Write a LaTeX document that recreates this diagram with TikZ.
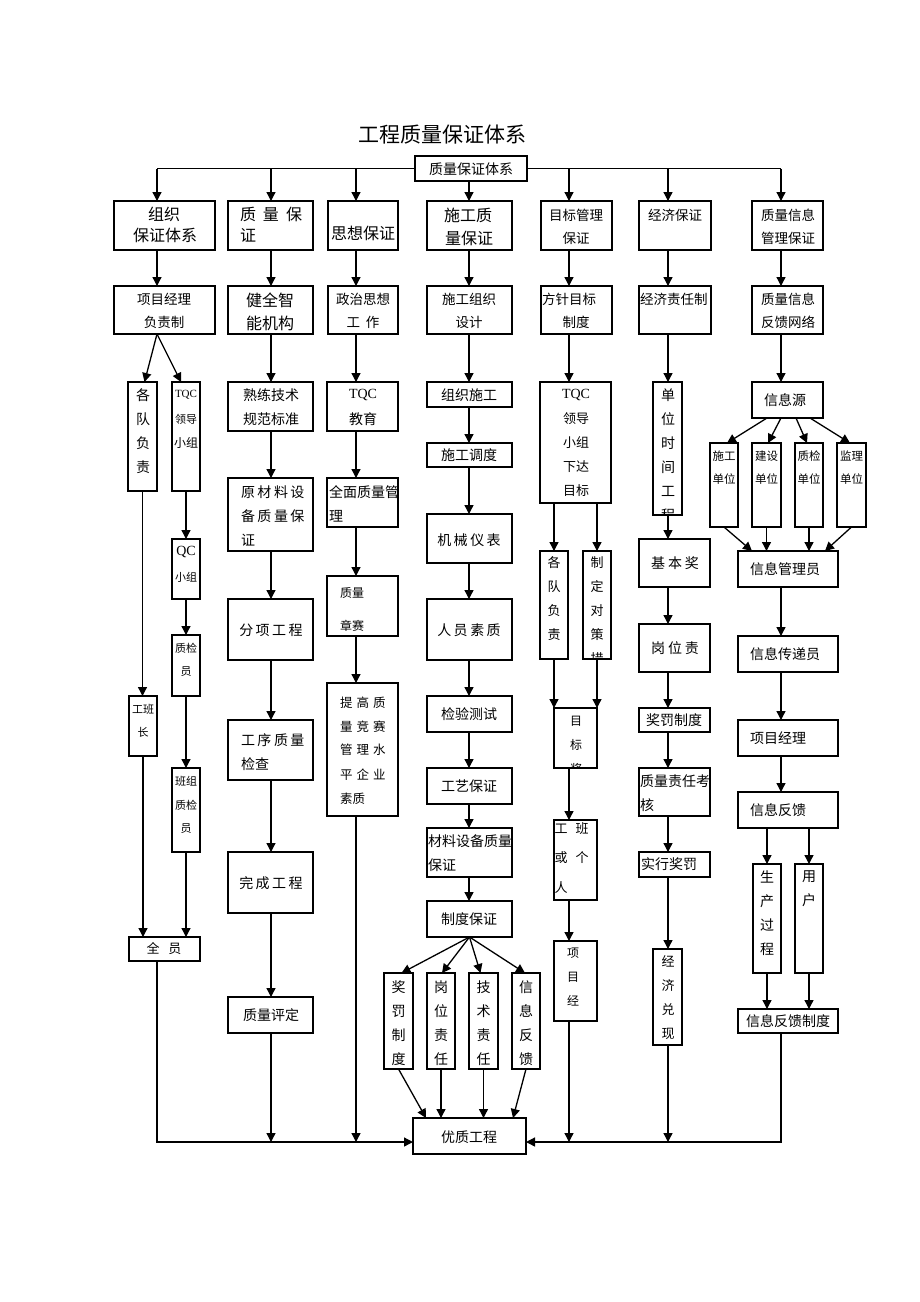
\documentclass[tikz,border=0pt]{standalone}
\usepackage{fontspec}
\setmainfont{Liberation Serif}
\newfontfamily\cjk{Noto Sans CJK SC}
\usetikzlibrary{arrows.meta,calc}
\newcounter{lbc}
\newcommand\gap[1]{\hspace{#1pt}}
\newcommand\bx[5]{\node[bx,minimum width={#4-#2},minimum height={#5-#3}] (#1) at ({(#2+#4)/2},{(#3+#5)/2}) {};}
\newcommand\tx[5][center]{\stepcounter{lbc}\node[lb,anchor=#1,font=\cjk\fontsize{#4}{#4}\selectfont] (l\arabic{lbc}) at (#2,#3) {#5};}
\newcommand\te[4]{\stepcounter{lbc}\node[lb,font=\rmfamily\fontsize{#3}{#3}\selectfont] (l\arabic{lbc}) at (#1,#2) {#4};}
\newcommand\vt[4]{\stepcounter{lbc}\node[lb,align=center,font=\cjk\fontsize{#3}{24}\selectfont] (l\arabic{lbc}) at (#1,#2) {#4};}
\begin{document}
\begin{tikzpicture}[x=1pt,y=-1pt,
  bx/.style={draw,line width=1.3pt,inner sep=0pt,outer sep=0pt},
  ln/.style={line width=1.3pt},
  arr/.style={line width=1.3pt,-{Triangle[length=9pt,width=9pt]}},
  lb/.style={inner sep=0pt,outer sep=0pt}]
\useasboundingbox[fill=white] (0,0) rectangle (920,1302);

\node[lb,font=\cjk\fontsize{21}{21}\selectfont] (title) at (442,135) {工程质量保证体系};

% column x references
\coordinate (x1) at (157,168.5);
\coordinate (x2) at (271,168.5);
\coordinate (x3) at (356,168.5);
\coordinate (x4) at (469,168.5);
\coordinate (x5) at (569,168.5);
\coordinate (x6) at (668,168.5);
\coordinate (x7) at (781,168.5);
\coordinate (b) at (0,1142);

% ---------- boxes ----------
\bx{T}{415}{156}{527}{181}
\bx{c1r1}{114}{201}{215}{250}
\bx{c2r1}{228}{201}{313}{250}
\bx{c3r1}{328}{201}{398}{250}
\bx{c4r1}{427}{201}{512}{250}
\bx{c5r1}{541}{201}{612}{250}
\bx{c6r1}{639}{201}{711}{250}
\bx{c7r1}{752}{201}{823}{250}
\bx{c1r2}{114}{286}{215}{334}
\bx{c2r2}{228}{286}{313}{334}
\bx{c3r2}{328}{286}{398}{334}
\bx{c4r2}{427}{286}{512}{334}
\bx{c5r2}{541}{286}{612}{334}
\bx{c6r2}{639}{286}{711}{334}
\bx{c7r2}{752}{286}{823}{334}
% col1
\bx{c1a}{128}{382}{157}{491}
\bx{c1b}{172}{382}{200}{491}
\bx{c1c}{172}{539}{200}{599}
\bx{c1d}{172}{635}{200}{696}
\bx{c1e}{129}{696}{157}{756}
\bx{c1f}{172}{768}{200}{852}
\bx{c1g}{129}{937}{200}{961}
% col2
\bx{c2a}{228}{382}{313}{431}
\bx{c2b}{228}{478}{313}{551}
\bx{c2c}{228}{599}{313}{660}
\bx{c2d}{228}{720}{313}{780}
\bx{c2e}{228}{852}{313}{913}
\bx{c2f}{228}{997}{313}{1033}
% col3
\bx{c3a}{327}{382}{398}{431}
\bx{c3b}{327}{478}{398}{527}
\bx{c3c}{327}{576}{398}{636}
\bx{c3d}{327}{683}{398}{816}
% col4
\bx{c4a}{427}{382}{512}{407}
\bx{c4b}{427}{443}{512}{467}
\bx{c4c}{427}{514}{512}{563}
\bx{c4d}{427}{599}{512}{660}
\bx{c4e}{427}{696}{512}{732}
\bx{c4f}{427}{768}{512}{804}
\bx{c4g}{427}{828}{512}{877}
\bx{c4h}{427}{901}{512}{937}
\bx{c4i}{384}{973}{413}{1069}
\bx{c4j}{427}{973}{455}{1069}
\bx{c4k}{469}{973}{498}{1069}
\bx{c4l}{512}{973}{540}{1069}
\bx{Q}{413}{1118}{526}{1154}
% col5
\bx{c5a}{540}{382}{611}{503}
\bx{c5b}{540}{551}{568}{659}
\bx{c5c}{583}{551}{611}{659}
\bx{c5d}{554}{708}{597}{768}
\bx{c5e}{554}{820}{597}{900}
\bx{c5f}{554}{941}{597}{1021}
% col6
\bx{c6a}{653}{382}{682}{515}
\bx{c6b}{639}{539}{710}{587}
\bx{c6c}{639}{624}{710}{672}
\bx{c6d}{639}{708}{710}{732}
\bx{c6e}{639}{768}{710}{816}
\bx{c6f}{639}{852}{710}{877}
\bx{c6g}{653}{949}{682}{1045}
% col7
\bx{c7a}{752}{382}{823}{418}
\bx{c7b}{710}{443}{738}{527}
\bx{c7c}{752}{443}{781}{527}
\bx{c7d}{795}{443}{823}{527}
\bx{c7e}{837}{443}{866}{527}
\bx{c7f}{738}{551}{838}{587}
\bx{c7g}{738}{636}{838}{672}
\bx{c7h}{738}{720}{838}{756}
\bx{c7i}{738}{792}{838}{828}
\bx{c7j}{753}{864}{781}{973}
\bx{c7k}{795}{864}{823}{973}
\bx{c7l}{738}{1009}{838}{1033}

% ---------- texts ----------
\tx{471}{169}{14}{质量保证体系}
\tx{164}{214}{16}{组织}
\tx{165}{235}{16}{保证体系}
\tx[west]{240}{214}{16}{质\gap{7}量\gap{7}保}
\tx[west]{240}{235}{16}{证}
\tx{363}{233}{16}{思想保证}
\tx{468}{215}{16}{施工质}
\tx{469}{238}{16}{量保证}
\tx{576}{215}{13.5}{目标管理}
\tx{576}{238}{13.5}{保证}
\tx{675}{215}{13.5}{经济保证}
\tx{788}{215}{13.5}{质量信息}
\tx{788}{238}{13.5}{管理保证}

\tx{164}{299}{13.5}{项目经理}
\tx{164}{322}{13.5}{负责制}
\tx{270}{300}{16}{健全智}
\tx{270}{323}{16}{能机构}
\tx{363}{299}{13.5}{政治思想}
\tx{363}{322}{13.5}{工\gap{6}作}
\tx{469}{299}{13.5}{施工组织}
\tx{469}{322}{13.5}{设计}
\tx[west]{542}{299}{13.5}{方针目标}
\tx{576}{322}{13.5}{制度}
\tx[west]{640}{299}{13.5}{经济责任制}
\tx{788}{299}{13.5}{质量信息}
\tx{788}{322}{13.5}{反馈网络}

% col1 texts
\vt{143}{431}{14}{各\\队\\负\\责}
\te{186}{395}{11}{TQC}
\tx{186}{419}{11}{领导}
\tx{186}{443}{12}{小组}
\te{186}{552}{14}{QC}
\tx{186}{577}{11}{小组}
\tx{186}{648}{11}{质检}
\tx{186}{672}{11}{员}
\tx{143}{709}{11}{工班}
\tx{143}{732}{11}{长}
\tx{186}{781}{11}{班组}
\tx{186}{805}{11}{质检}
\tx{186}{829}{11}{员}
\tx{164}{949}{13}{全\gap{9}员}

% col2 texts
\tx{271}{395}{14}{熟练技术}
\tx{271}{419}{14}{规范标准}
\tx[west]{241}{492}{14}{原\gap{2.5}材\gap{2.5}料\gap{2.5}设}
\tx[west]{241}{516}{14}{备\gap{2.5}质\gap{2.5}量\gap{2.5}保}
\tx[west]{241}{540}{14}{证}
\tx{271}{630}{14}{分\gap{2.5}项\gap{2.5}工\gap{2.5}程}
\tx[west]{241}{740}{14}{工\gap{2.5}序\gap{2.5}质\gap{2.5}量}
\tx[west]{241}{764}{14}{检查}
\tx{271}{883}{14}{完\gap{2.5}成\gap{2.5}工\gap{2.5}程}
\tx{271}{1015}{14}{质量评定}

% col3 texts
\te{363}{395}{14}{TQC}
\tx{363}{419}{14}{教育}
\tx[west]{329}{492}{14}{全面质量管}
\tx[west]{329}{516}{14}{理}
\tx[west]{340}{593}{12}{质量}
\tx[west]{340}{626}{12}{章赛}
\tx[west]{340}{703}{12.5}{提\gap{4}高\gap{4}质}
\tx[west]{340}{727}{12.5}{量\gap{4}竞\gap{4}赛}
\tx[west]{340}{750}{12.5}{管\gap{4}理\gap{4}水}
\tx[west]{340}{775}{12.5}{平\gap{4}企\gap{4}业}
\tx[west]{340}{799}{12.5}{素质}

% col4 texts
\tx{469}{395}{14}{组织施工}
\tx{469}{455}{14}{施工调度}
\tx{469}{540}{14}{机\gap{2.5}械\gap{2.5}仪\gap{2.5}表}
\tx{469}{630}{14}{人\gap{2.5}员\gap{2.5}素\gap{2.5}质}
\tx{469}{714}{14}{检验测试}
\tx{469}{786}{14}{工艺保证}
\tx[west]{428}{841}{14}{材料设备质量}
\tx[west]{428}{865}{14}{保证}
\tx{469}{919}{14}{制度保证}
\vt{398.5}{1023}{14}{奖\\罚\\制\\度}
\vt{441}{1023}{14}{岗\\位\\责\\任}
\vt{483.5}{1023}{14}{技\\术\\责\\任}
\vt{526}{1023}{14}{信\\息\\反\\馈}
\tx{469}{1137}{14}{优质工程}

% col5 texts
\te{576}{395}{14}{TQC}
\vt{576}{455}{13}{领导\\小组\\下达\\目标}
\vt{554}{599}{13}{各\\队\\负\\责}
\begin{scope}
\clip (c5c.south west) rectangle (c5c.north east);
\vt{597}{611}{13}{制\\定\\对\\策\\措}
\end{scope}
\begin{scope}
\clip (c5d.south west) rectangle (c5d.north east);
\vt{576}{745}{12}{目\\标\\奖}
\end{scope}
\tx{561}{829}{13}{工}
\tx{582}{829}{13}{班}
\tx{561}{858}{13}{或}
\tx{582}{858}{13}{个}
\tx{561}{888}{13}{人}
\vt{573}{977}{12}{项\\目\\经}

% col6 texts
\begin{scope}
\clip (c6a.south west) rectangle (c6a.north east);
\vt{668}{455}{14}{单\\位\\时\\间\\工\\程}
\end{scope}
\tx{675}{563}{14}{基\gap{3}本\gap{3}奖}
\tx{675}{648}{14}{岗\gap{3}位\gap{3}责}
\tx{674}{720}{14}{奖罚制度}
\tx[west]{640}{781}{14}{质量责任考}
\tx[west]{640}{805}{14}{核}
\tx[west]{641}{864}{14}{实行奖罚}
\vt{668}{998}{13}{经\\济\\兑\\现}

% col7 texts
\tx{785}{400}{14}{信息源}
\tx{724}{456}{11.5}{施工}
\tx{724}{479}{11.5}{单位}
\tx{766.5}{456}{11.5}{建设}
\tx{766.5}{479}{11.5}{单位}
\tx{809}{456}{11.5}{质检}
\tx{809}{479}{11.5}{单位}
\tx{851.5}{456}{11.5}{监理}
\tx{851.5}{479}{11.5}{单位}
\tx{785}{569}{14}{信息管理员}
\tx{785}{654}{14}{信息传递员}
\tx{778}{738}{14}{项目经理}
\tx{778}{810}{14}{信息反馈}
\vt{767}{913}{14}{生\\产\\过\\程}
\vt{809}{889}{14}{用\\户}
\tx{788}{1021}{14}{信息反馈制度}

% ---------- connectors ----------
\draw[ln] (T.west) -- (x1);
\draw[ln] (T.east) -- (x7);
\draw[arr] (x1) -- (x1 |- c1r1.north);
\draw[arr] (x2) -- (x2 |- c2r1.north);
\draw[arr] (x3) -- (x3 |- c3r1.north);
\draw[arr] (T.south -| x4) -- (c4r1.north -| x4);
\draw[arr] (x5) -- (x5 |- c5r1.north);
\draw[arr] (x6) -- (x6 |- c6r1.north);
\draw[arr] (x7) -- (x7 |- c7r1.north);

\draw[arr] (c1r1.south -| x1) -- (c1r2.north -| x1);
\draw[arr] (c2r1.south -| x2) -- (c2r2.north -| x2);
\draw[arr] (c3r1.south -| x3) -- (c3r2.north -| x3);
\draw[arr] (c4r1.south -| x4) -- (c4r2.north -| x4);
\draw[arr] (c5r1.south -| x5) -- (c5r2.north -| x5);
\draw[arr] (c6r1.south -| x6) -- (c6r2.north -| x6);
\draw[arr] (c7r1.south -| x7) -- (c7r2.north -| x7);

% col1
\draw[arr] (c1r2.south -| x1) -- ($(c1a.north)+(2,0)$);
\draw[arr] (c1r2.south -| x1) -- ($(c1b.north)+(-5,0)$);
\draw[arr] (c1a.south) -- (c1a.south |- c1e.north);
\draw[arr] (c1b.south) -- (c1c.north);
\draw[arr] (c1c.south) -- (c1d.north);
\draw[arr] (c1d.south) -- (c1f.north);
\draw[arr] (c1e.south) -- (c1e.south |- c1g.north);
\draw[arr] (c1f.south) -- (c1f.south |- c1g.north);
\draw[arr] (c1g.south -| x1) |- (Q.west |- b);

% col2
\draw[arr] (c2r2.south -| x2) -- (c2a.north -| x2);
\draw[arr] (c2a.south -| x2) -- (c2b.north -| x2);
\draw[arr] (c2b.south -| x2) -- (c2c.north -| x2);
\draw[arr] (c2c.south -| x2) -- (c2d.north -| x2);
\draw[arr] (c2d.south -| x2) -- (c2e.north -| x2);
\draw[arr] (c2e.south -| x2) -- (c2f.north -| x2);
\draw[arr] (c2f.south -| x2) -- (b -| x2);

% col3
\draw[arr] (c3r2.south -| x3) -- (c3a.north -| x3);
\draw[arr] (c3a.south -| x3) -- (c3b.north -| x3);
\draw[arr] (c3b.south -| x3) -- (c3c.north -| x3);
\draw[arr] (c3c.south -| x3) -- (c3d.north -| x3);
\draw[arr] (c3d.south -| x3) -- (b -| x3);

% col4
\draw[arr] (c4r2.south -| x4) -- (c4a.north -| x4);
\draw[arr] (c4a.south -| x4) -- (c4b.north -| x4);
\draw[arr] (c4b.south -| x4) -- (c4c.north -| x4);
\draw[arr] (c4c.south -| x4) -- (c4d.north -| x4);
\draw[arr] (c4d.south -| x4) -- (c4e.north -| x4);
\draw[arr] (c4e.south -| x4) -- (c4f.north -| x4);
\draw[arr] (c4f.south -| x4) -- (c4g.north -| x4);
\draw[arr] (c4g.south -| x4) -- (c4h.north -| x4);
\draw[arr] (c4h.south) -- ($(c4i.north)+(3,0)$);
\draw[arr] (c4h.south) -- ($(c4j.north)+(1,0)$);
\draw[arr] (c4h.south) -- ($(c4k.north)+(-3,0)$);
\draw[arr] (c4h.south) -- ($(c4l.north)+(-1,0)$);
\draw[arr] (c4i.south) -- ($(Q.north)+(-43.5,0)$);
\draw[arr] (c4j.south) -- (c4j.south |- Q.north);
\draw[arr] (c4k.south) -- (c4k.south |- Q.north);
\draw[arr] (c4l.south) -- ($(Q.north)+(43.5,0)$);

% col5
\draw[arr] (c5r2.south -| x5) -- (c5a.north -| x5);
\draw[arr] (c5b.north |- c5a.south) -- (c5b.north);
\draw[arr] (c5c.north |- c5a.south) -- (c5c.north);
\draw[arr] (c5b.south) -- (c5b.south |- c5d.north);
\draw[arr] (c5c.south) -- (c5c.south |- c5d.north);
\draw[arr] (c5d.south -| x5) -- (c5e.north -| x5);
\draw[arr] (c5e.south -| x5) -- (c5f.north -| x5);
\draw[arr] (c5f.south -| x5) -- (b -| x5);

% col6
\draw[arr] (c6r2.south -| x6) -- (c6a.north -| x6);
\draw[arr] (c6a.south -| x6) -- (c6b.north -| x6);
\draw[arr] (c6b.south -| x6) -- (c6c.north -| x6);
\draw[arr] (c6c.south -| x6) -- (c6d.north -| x6);
\draw[arr] (c6d.south -| x6) -- (c6e.north -| x6);
\draw[arr] (c6e.south -| x6) -- (c6f.north -| x6);
\draw[arr] (c6f.south -| x6) -- (c6g.north -| x6);
\draw[arr] (c6g.south -| x6) -- (b -| x6);

% col7
\draw[arr] (c7r2.south -| x7) -- (c7a.north -| x7);
\draw[arr] ($(c7a.south)+(-20.5,0)$) -- ($(c7b.north)+(3,0)$);
\draw[arr] ($(c7a.south)+(-6.5,0)$) -- ($(c7c.north)+(1.5,0)$);
\draw[arr] ($(c7a.south)+(8.5,0)$) -- ($(c7d.north)+(-2,0)$);
\draw[arr] ($(c7a.south)+(22.5,0)$) -- ($(c7e.north)+(-1.5,0)$);
\draw[arr] (c7b.south) -- ($(c7f.north)+(-36,0)$);
\draw[arr] (c7c.south) -- (c7c.south |- c7f.north);
\draw[arr] (c7d.south) -- (c7d.south |- c7f.north);
\draw[arr] (c7e.south) -- ($(c7f.north)+(37,0)$);
\draw[arr] (c7f.south -| x7) -- (c7g.north -| x7);
\draw[arr] (c7g.south -| x7) -- (c7h.north -| x7);
\draw[arr] (c7h.south -| x7) -- (c7i.north -| x7);
\draw[arr] (c7j.north |- c7i.south) -- (c7j.north);
\draw[arr] (c7k.north |- c7i.south) -- (c7k.north);
\draw[arr] (c7j.south) -- (c7j.south |- c7l.north);
\draw[arr] (c7k.south) -- (c7k.south |- c7l.north);
\draw[arr] (c7l.south -| x7) |- (Q.east |- b);
\end{tikzpicture}
\end{document}
